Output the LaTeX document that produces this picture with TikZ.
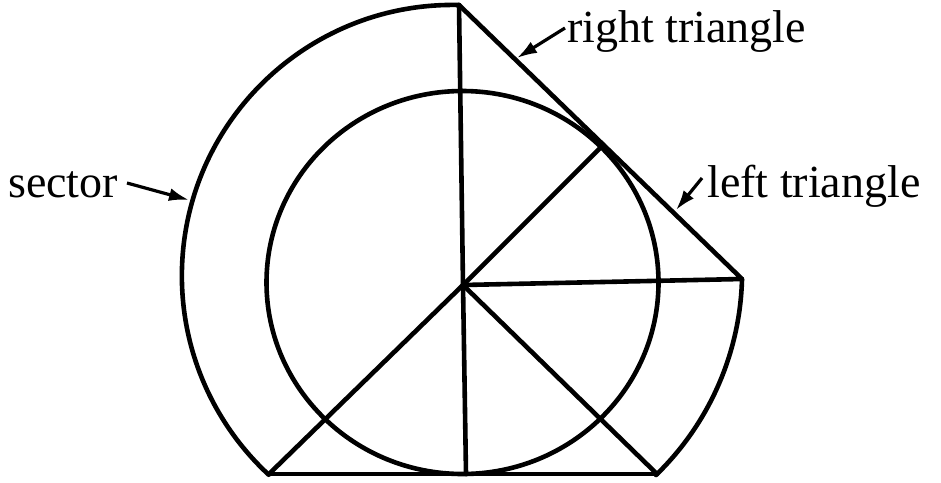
\documentclass[tikz,border=0pt]{standalone}
\usepackage{fontspec}
\setmainfont{Liberation Serif}
\usetikzlibrary{arrows.meta}
\begin{document}
\begin{tikzpicture}[x=1pt,y=-1pt,
  fig/.style={line width=4.6pt, line join=round, line cap=round},
  lab/.style={font=\fontsize{46}{52}\selectfont, inner sep=0pt, anchor=base west},
  ptr/.style={line width=3.2pt, -{Latex[length=20pt,width=13pt]}}]
\useasboundingbox (0,0) rectangle (941,482);
% key points
\coordinate (C) at (463,285);
\coordinate (T) at (459,5);
\coordinate (R) at (742,279);
\coordinate (BL) at (269,474);
\coordinate (BR) at (657,474);
\coordinate (B) at (466,474);
\coordinate (D) at (563,185);
\coordinate (K) at (intersection of C--D and T--R);
% inner circle
\draw[fig] (462.5,282.5) ellipse [x radius=196pt, y radius=191.5pt];
% outer arcs
\draw[fig] (T) arc[start angle=88.7, end angle=227.2, radius=271pt];
\draw[fig] (R) arc[start angle=-1.48, end angle=-45.9, radius=283.1pt];
% straight lines
\draw[fig] (T) -- (C) -- (B);
\draw[fig] (T) -- (R) -- (C);
\draw[fig] (BL) -- (BR);
\draw[fig] (BL) -- (C) -- (BR);
\draw[fig] (C) -- (K);
% labels
\node[lab] (sec) at (8,197) {sector};
\node[lab] (rt) at (567,42) {right triangle};
\node[lab] (lt) at (707,197) {left triangle};
\coordinate (sa) at (127,183);
\coordinate (sb) at (189,200);
\coordinate (ra) at (565,28);
\coordinate (rb) at (517,58);
\coordinate (la) at (702,178);
\coordinate (lb) at (676,210);
\draw[ptr] (sa) -- (sb);
\draw[ptr] (ra) -- (rb);
\draw[ptr] (la) -- (lb);
\end{tikzpicture}
\end{document}
